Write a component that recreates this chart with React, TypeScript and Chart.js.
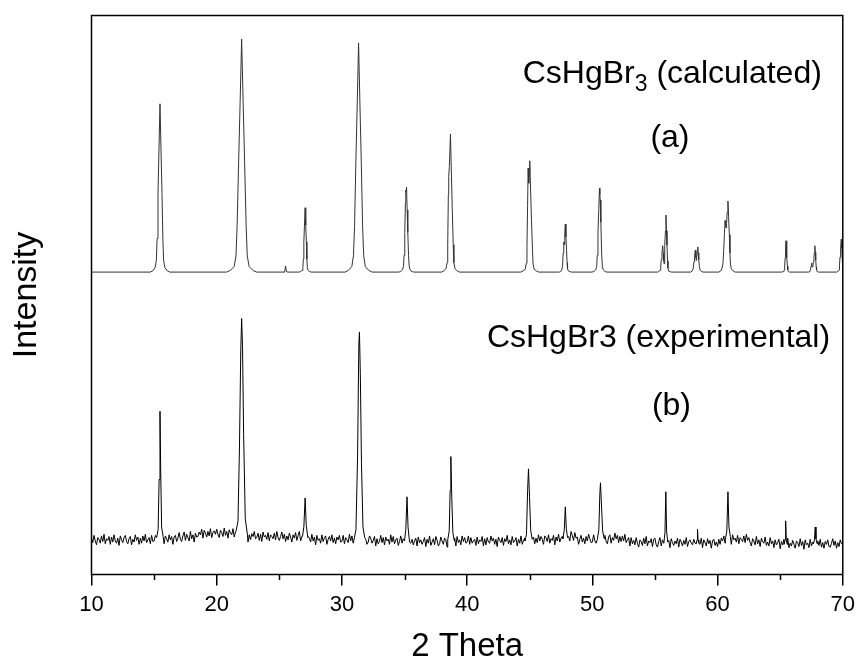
import React, { useEffect, useRef } from 'react';
import { Chart, registerables } from 'chart.js';

Chart.register(...registerables);

// ---------- axis ticks ----------
const xMajorTicks = [10, 20, 30, 40, 50, 60, 70];
const xMinorTicks = [15, 25, 35, 45, 55, 65];

// ---------- (a) calculated pattern: [2θ, intensity] ----------
const calcPoints: [number, number][] = [
  [10, 541],
  [14.69, 541], [14.89, 543], [15.08, 549], [15.18, 562], [15.24, 601], [15.31, 682], [15.39, 761], [15.47, 842],
  [15.55, 761], [15.63, 682], [15.70, 601], [15.76, 562], [15.86, 549], [16.06, 543], [16.25, 541],
  [20.79, 541], [21.09, 544], [21.39, 551], [21.54, 570], [21.63, 624], [21.75, 737], [21.87, 845], [21.99, 958],
  [22.11, 845], [22.23, 737], [22.35, 624], [22.44, 570], [22.59, 551], [22.89, 544], [23.19, 541],
  [25.38, 541], [25.44, 543], [25.50, 552], [25.56, 543], [25.62, 541],
  [26.58, 541], [26.70, 542], [26.82, 544], [26.88, 549], [26.92, 564], [26.96, 595], [27.01, 625], [27.06, 656],
  [27.11, 625], [27.16, 595], [27.20, 564], [27.24, 549], [27.30, 544], [27.42, 542], [27.54, 541],
  [30.25, 541], [30.52, 544], [30.79, 551], [30.92, 570], [31.01, 623], [31.11, 734], [31.22, 840], [31.33, 951],
  [31.44, 840], [31.55, 734], [31.65, 623], [31.74, 570], [31.87, 551], [32.14, 544], [32.41, 541],
  [34.54, 541], [34.69, 542], [34.84, 545], [34.92, 552], [34.96, 571], [35.02, 612], [35.07, 665], [35.10, 688],
  [35.13, 684], [35.16, 693], [35.21, 652], [35.26, 612], [35.32, 571], [35.37, 552], [35.44, 545], [35.59, 542], [35.74, 541],
  [37.95, 541], [38.13, 543], [38.31, 547], [38.40, 558], [38.45, 590], [38.50, 680], [38.53, 712], [38.58, 730],
  [38.67, 788], [38.74, 721], [38.81, 657], [38.89, 590], [38.94, 558], [39.03, 547], [39.21, 543], [39.39, 541],
  [44.28, 541], [44.46, 543], [44.64, 546], [44.73, 557], [44.78, 588], [44.83, 660], [44.87, 727], [44.92, 700],
  [44.96, 715], [45.00, 740], [45.07, 686], [45.14, 634], [45.22, 580], [45.27, 555], [45.36, 546], [45.54, 543], [45.72, 541],
  [47.36, 541], [47.48, 542], [47.56, 545], [47.62, 552], [47.67, 575], [47.72, 595], [47.76, 590], [47.80, 610],
  [47.84, 627], [47.89, 604], [47.94, 581], [47.98, 558], [48.02, 547], [48.08, 543], [48.20, 542], [48.32, 541],
  [49.97, 541], [50.12, 542], [50.27, 545], [50.35, 551], [50.39, 571], [50.45, 612], [50.51, 651], [50.57, 691],
  [50.60, 680], [50.63, 670], [50.68, 630], [50.75, 571], [50.80, 551], [50.87, 545], [51.02, 542], [51.17, 541],
  [55.20, 541], [55.30, 542], [55.41, 544], [55.46, 550], [55.50, 563], [55.56, 575], [55.62, 588], [55.66, 575],
  [55.70, 561], [55.73, 556], [55.76, 565], [55.80, 589], [55.84, 615], [55.88, 643], [55.92, 615], [55.96, 589],
  [56.01, 561], [56.04, 548], [56.09, 543], [56.20, 542], [56.30, 541],
  [57.85, 541], [57.98, 543], [58.06, 548], [58.12, 560], [58.17, 570], [58.22, 580], [58.27, 567], [58.30, 562],
  [58.33, 566], [58.37, 576], [58.42, 586], [58.46, 575], [58.50, 563], [58.55, 551], [58.60, 545], [58.72, 542], [58.85, 541],
  [60.10, 541], [60.25, 543], [60.35, 547], [60.43, 556], [60.49, 580], [60.55, 610], [60.60, 633], [60.64, 625],
  [60.68, 620], [60.72, 628], [60.77, 648], [60.83, 668], [60.88, 640], [60.94, 608], [60.99, 575], [61.03, 555],
  [61.10, 547], [61.25, 543], [61.40, 541],
  [65.11, 541], [65.29, 542], [65.34, 545], [65.36, 552], [65.40, 567], [65.43, 582], [65.47, 597], [65.51, 582],
  [65.54, 567], [65.58, 552], [65.61, 545], [65.65, 542], [65.74, 541],
  [67.25, 541], [67.38, 542], [67.43, 546], [67.47, 552], [67.50, 557], [67.54, 552], [67.58, 550], [67.62, 553],
  [67.66, 560], [67.70, 567], [67.73, 576], [67.77, 588], [67.81, 576], [67.84, 563], [67.88, 550], [67.91, 545],
  [67.95, 542], [68.05, 541],
  [69.50, 541], [69.60, 542], [69.70, 545], [69.74, 553], [69.78, 568], [69.83, 584], [69.88, 600], [69.92, 584],
  [69.95, 568], [69.99, 553], [70.02, 545],
];

// ---------- (b) experimental pattern ----------
// background readings on a 0.1° grid from 10.0° to 70.0° (one row = 5°)
const expGridStart = 10;
const expGridStep = 0.1;
const expBackground: number[] = [
  65, 57, 70, 60, 53, 66, 63, 56, 69, 59, 72, 55, 64, 61, 68, 54, 67, 58, 71, 60, 56, 65, 52, 69, 62,
  57, 66, 70, 59, 55, 64, 68, 53, 63, 58, 71, 61, 67, 54, 65, 56, 69, 60, 72, 57, 62, 66, 55, 70, 59,
  60, 70, 63, 73, 57, 66, 61, 72, 55, 69, 64, 58, 71, 62, 68, 54, 67, 70, 59, 65, 75, 63, 59, 69, 76,
  61, 72, 66, 60, 77, 64, 71, 58, 74, 67, 68, 76, 71, 81, 65, 79, 74, 67, 77, 69, 82, 66, 75, 78, 72,
  81, 72, 66, 79, 75, 68, 83, 70, 77, 65, 80, 74, 71, 82, 67, 76, 74, 74, 74, 74, 74, 74, 74, 74, 74,
  58, 71, 62, 73, 68, 77, 64, 66, 74, 61, 72, 59, 76, 67, 70, 63, 75, 60, 71, 68, 64, 74, 62, 77, 66,
  61, 68, 76, 64, 72, 59, 69, 62, 74, 67, 58, 71, 65, 75, 61, 70, 77, 60, 68, 63, 69, 62, 55, 68, 65,
  58, 72, 60, 67, 53, 70, 61, 64, 56, 71, 59, 66, 69, 54, 63, 68, 60, 71, 57, 65, 55, 67, 62, 70, 58,
  59, 70, 55, 66, 62, 57, 72, 60, 69, 56, 62, 62, 62, 62, 62, 62, 62, 62, 62, 63, 54, 58, 69, 65, 56,
  61, 68, 51, 64, 55, 59, 70, 57, 66, 53, 67, 60, 63, 54, 71, 58, 68, 55, 62, 65, 52, 59, 69, 56, 64,
  59, 59, 59, 59, 59, 56, 63, 53, 60, 65, 51, 67, 57, 62, 54, 59, 66, 50, 63, 56, 69, 52, 58, 64, 53,
  68, 61, 51, 55, 67, 60, 54, 65, 62, 49, 59, 59, 59, 59, 59, 65, 51, 68, 57, 62, 53, 69, 59, 66, 56,
  58, 69, 54, 66, 56, 60, 63, 52, 67, 55, 62, 59, 68, 51, 64, 53, 66, 58, 56, 69, 60, 65, 54, 63, 50,
  67, 61, 57, 66, 52, 64, 59, 70, 55, 62, 53, 68, 57, 60, 66, 51, 63, 56, 69, 54, 61, 65, 60, 60, 60,
  63, 63, 63, 67, 55, 65, 57, 71, 60, 68, 63, 54, 69, 66, 59, 71, 56, 64, 61, 70, 53, 67, 60, 72, 58,
  65, 68, 63, 63, 63, 63, 68, 60, 77, 70, 61, 75, 65, 67, 54, 63, 70, 58, 65, 55, 68, 60, 72, 64, 57,
  58, 71, 60, 56, 62, 62, 62, 62, 62, 62, 70, 59, 55, 67, 71, 56, 66, 61, 74, 64, 70, 57, 68, 59, 69,
  60, 72, 57, 62, 66, 51, 66, 55, 61, 53, 66, 56, 49, 62, 59, 52, 65, 55, 68, 51, 60, 57, 64, 50, 63,
  65, 53, 49, 59, 66, 51, 62, 56, 57, 57, 57, 61, 48, 64, 57, 52, 60, 55, 65, 49, 63, 58, 51, 61, 54,
  66, 50, 59, 62, 56, 53, 63, 56, 57, 57, 57, 54, 65, 48, 62, 57, 51, 64, 55, 61, 47, 60, 63, 52, 58,
  50, 63, 54, 65, 60, 69, 56, 61, 61, 61, 61, 54, 71, 62, 65, 58, 70, 55, 66, 63, 59, 69, 57, 72, 61,
  66, 57, 51, 64, 60, 53, 68, 55, 62, 50, 65, 59, 56, 67, 52, 58, 51, 66, 55, 60, 48, 62, 53, 57, 63,
  46, 59, 53, 63, 55, 55, 65, 48, 56, 51, 61, 54, 47, 60, 57, 50, 64, 52, 59, 45, 62, 53, 56, 48, 63,
  51, 58, 55, 55, 55, 60, 52, 63, 49, 57, 47, 59, 54, 62, 50, 49, 56, 64, 52, 60, 47, 57, 50, 62, 55,
  54,
];

// reflections of the experimental pattern: [2θ, intensity] per peak
const expPeaks: [number, number][][] = [
  [[15.20, 66], [15.32, 80], [15.40, 170], [15.47, 292], [15.53, 180], [15.60, 85], [15.72, 68]],
  [[21.55, 78], [21.70, 95], [21.82, 230], [21.92, 400], [21.99, 458], [22.06, 410], [22.15, 250], [22.28, 100], [22.45, 72]],
  [[26.85, 68], [26.96, 85], [27.06, 137], [27.15, 88], [27.28, 66]],
  [[30.98, 64], [31.12, 80], [31.25, 210], [31.35, 410], [31.40, 434], [31.47, 360], [31.56, 200], [31.68, 85], [31.82, 66]],
  [[35.00, 60], [35.10, 80], [35.20, 139], [35.28, 85], [35.40, 58]],
  [[38.45, 62], [38.57, 78], [38.64, 150], [38.70, 211], [38.77, 140], [38.86, 75], [38.98, 60]],
  [[44.62, 60], [44.74, 72], [44.83, 150], [44.90, 189], [44.98, 140], [45.08, 78], [45.20, 63]],
  [[47.65, 64], [47.76, 80], [47.84, 121], [47.92, 82], [48.02, 66]],
  [[50.40, 63], [50.52, 80], [50.60, 145], [50.65, 164], [50.72, 130], [50.82, 78], [50.95, 64]],
  [[55.72, 58], [55.80, 75], [55.87, 148], [55.93, 78], [56.02, 58]],
  [[58.30, 55], [58.36, 62], [58.40, 81], [58.44, 62], [58.50, 56]],
  [[60.62, 62], [60.74, 78], [60.83, 148], [60.91, 85], [61.02, 68]],
  [[65.32, 54], [65.39, 62], [65.44, 96], [65.49, 62], [65.56, 54]],
  [[67.66, 55], [67.74, 62], [67.80, 85], [67.86, 64], [67.95, 55]],
];

// ---------- text ----------
const xTitle = '2 Theta';
const yTitle = 'Intensity';
const calcLabelMain = 'CsHgBr';
const calcLabelSub = '3';
const calcLabelRest = ' (calculated)';
const calcTag = '(a)';
const expLabel = 'CsHgBr3 (experimental)';
const expTag = '(b)';

// annotation anchors in data coordinates [2θ, intensity]
const calcLabelAnchor: [number, number] = [68.33, 879];
const calcTagAnchor: [number, number] = [56.2, 765];
const expLabelAnchor: [number, number] = [68.99, 407];
const expTagAnchor: [number, number] = [56.32, 285];

const FONT = '"Liberation Sans", Arial, Helvetica, sans-serif';

function buildExpData() {
  const windows = expPeaks.map((g) => [g[0][0], g[g.length - 1][0]]);
  const pts: { x: number; y: number }[] = [];
  expBackground.forEach((v, i) => {
    const t = Math.round((expGridStart + i * expGridStep) * 100) / 100;
    const inside = windows.some(([a, b]) => t >= a - 1e-6 && t <= b + 1e-6);
    if (!inside) pts.push({ x: t, y: v });
  });
  expPeaks.forEach((g) => g.forEach(([x, y]) => pts.push({ x, y })));
  pts.sort((p, q) => p.x - q.x);
  return pts;
}

const decorPlugin = {
  id: 'decor',
  afterDraw(chart: any) {
    const { ctx, chartArea: a, scales } = chart;
    const xs = scales.x;
    const ys = scales.y;
    ctx.save();
    // frame
    ctx.strokeStyle = '#000';
    ctx.lineWidth = 1.5;
    ctx.strokeRect(a.left, a.top, a.right - a.left, a.bottom - a.top);
    // minor ticks
    ctx.beginPath();
    xMinorTicks.forEach((v) => {
      const px = Math.round(xs.getPixelForValue(v)) + 0.5;
      ctx.moveTo(px, a.bottom);
      ctx.lineTo(px, a.bottom + 5.5);
    });
    ctx.stroke();

    ctx.fillStyle = '#000';
    ctx.textBaseline = 'alphabetic';
    const big = `32px ${FONT}`;
    const small = `23px ${FONT}`;

    // calculated label with subscript
    ctx.font = big;
    const w1 = ctx.measureText(calcLabelMain).width;
    const w3 = ctx.measureText(calcLabelRest).width;
    ctx.font = small;
    const w2 = ctx.measureText(calcLabelSub).width;
    const rx = xs.getPixelForValue(calcLabelAnchor[0]);
    const by = ys.getPixelForValue(calcLabelAnchor[1]);
    const x0 = rx - (w1 + w2 + w3);
    ctx.textAlign = 'left';
    ctx.font = big;
    ctx.fillText(calcLabelMain, x0, by);
    ctx.font = small;
    ctx.fillText(calcLabelSub, x0 + w1, by + 8);
    ctx.font = big;
    ctx.fillText(calcLabelRest, x0 + w1 + w2, by);

    ctx.textAlign = 'center';
    ctx.fillText(calcTag, xs.getPixelForValue(calcTagAnchor[0]), ys.getPixelForValue(calcTagAnchor[1]));

    ctx.textAlign = 'right';
    ctx.fillText(expLabel, xs.getPixelForValue(expLabelAnchor[0]), ys.getPixelForValue(expLabelAnchor[1]));

    ctx.textAlign = 'center';
    ctx.fillText(expTag, xs.getPixelForValue(expTagAnchor[0]), ys.getPixelForValue(expTagAnchor[1]));
    ctx.restore();
  },
};

export default function App() {
  const canvasRef = useRef<HTMLCanvasElement | null>(null);

  useEffect(() => {
    if (!canvasRef.current) return;
    const calcData = calcPoints.map(([x, y]) => ({ x, y }));
    const expData = buildExpData();

    const chart = new Chart(canvasRef.current, {
      type: 'line',
      data: {
        datasets: [
          {
            label: 'CsHgBr3 (calculated)',
            data: calcData,
            borderColor: '#333',
            borderWidth: 1,
            pointRadius: 0,
            tension: 0,
            fill: false,
          },
          {
            label: 'CsHgBr3 (experimental)',
            data: expData,
            borderColor: '#000',
            borderWidth: 1,
            pointRadius: 0,
            tension: 0,
            fill: false,
          },
        ],
      },
      options: {
        animation: false,
        responsive: false,
        events: [],
        layout: { padding: { left: 0, right: 15.3, top: 15.5, bottom: 0 } },
        plugins: {
          legend: { display: false },
          tooltip: { enabled: false },
        },
        scales: {
          x: {
            type: 'linear',
            min: 10,
            max: 70,
            afterBuildTicks: (axis: any) => {
              axis.ticks = xMajorTicks.map((v) => ({ value: v }));
            },
            ticks: {
              color: '#000',
              font: { family: FONT, size: 22 },
              padding: 6,
              maxRotation: 0,
              autoSkip: false,
            },
            grid: {
              display: true,
              drawOnChartArea: false,
              drawTicks: true,
              tickLength: 11,
              color: '#000',
              lineWidth: 1.5,
            },
            border: { display: false },
            title: {
              display: true,
              text: xTitle,
              color: '#000',
              font: { family: FONT, size: 33, lineHeight: 1 },
              padding: { top: 0, bottom: 2.7 },
            },
            afterFit: (axis: any) => {
              axis.height = 91.5;
            },
          },
          y: {
            type: 'linear',
            min: 0,
            max: 1000,
            ticks: { display: false },
            grid: { display: false },
            border: { display: false },
            title: {
              display: true,
              text: yTitle,
              color: '#000',
              font: { family: FONT, size: 34, lineHeight: 1.2 },
              padding: { top: 6, bottom: 0 },
            },
            afterFit: (axis: any) => {
              axis.width = 91.5;
            },
          },
        },
      },
      plugins: [decorPlugin],
    });
    return () => chart.destroy();
  }, []);

  return (
    <div style={{ position: 'fixed', left: 0, top: 0, width: 861, height: 666, background: '#fff' }}>
      <canvas ref={canvasRef} width={861} height={666} style={{ display: 'block' }} />
    </div>
  );
}
